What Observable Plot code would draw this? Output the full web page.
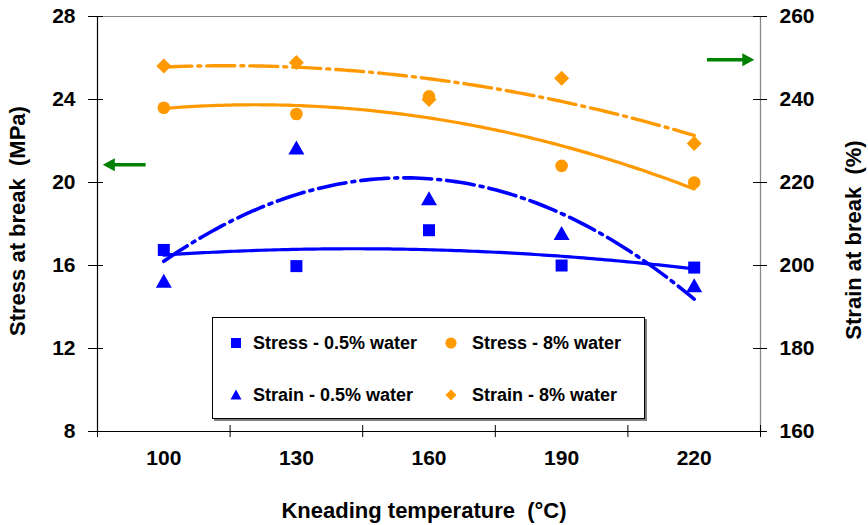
<!DOCTYPE html>
<html><head><meta charset="utf-8">
<script src="https://cdn.jsdelivr.net/npm/d3@7"></script>
<script src="https://cdn.jsdelivr.net/npm/@observablehq/plot@0.6"></script>
<style>
body{margin:0;background:#fff;}
#wrap{position:relative;width:868px;height:525px;font-family:"Liberation Sans",Arial,sans-serif;}
#wrap svg text{white-space:pre;}
#legend{position:absolute;left:212px;top:317px;width:431px;height:100px;border:1px solid #000;box-shadow:2px 2px 0 #7f7f7f;background:#fff;}
.lab{position:absolute;font-weight:bold;font-size:18px;line-height:20px;color:#000;white-space:nowrap;}
.mk{position:absolute;width:14px;height:14px;}
</style>
</head><body>
<div id="wrap"></div>
<script>
// ---- data ----
const temps = [100, 130, 160, 190, 220];
const stress05 = [16.75, 15.97, 17.7, 16.0, 15.9];   // MPa, left axis
const stress8  = [23.6, 23.3, 24.15, 20.8, 20.0];    // MPa, left axis
const strain05 = [196.2, 228.3, 216.1, 207.7, 195.1]; // %, right axis
const strain8  = [248.1, 248.9, 240.0, 245.1, 229.4]; // %, right axis

const xDomain = [85, 235];
const xTickLabels = [100, 130, 160, 190, 220];
const xBoundaries = [85, 115, 145, 175, 205, 235];
const stressDomain = [8, 28];
const stressTicks = [8, 12, 16, 20, 24, 28];
const strainDomain = [160, 260];
const strainTicks = [160, 180, 200, 220, 240, 260];

const seriesNames = ["Stress - 0.5% water", "Stress - 8% water", "Strain - 0.5% water", "Strain - 8% water"];
const blue = "#0000ff", orange = "#ff9900", green = "#008000";

// annotation arrows (pointing to the axis each group belongs to)
const leftArrow = [{tail: 96.0, tip: 86.2, stress: 20.85}];
const rightArrow = [{tail: 223.0, tip: 233.6, strain: 249.6}];

// ---- helpers ----
const k = (stressDomain[1] - stressDomain[0]) / (strainDomain[1] - strainDomain[0]);
const toLeft = v => stressDomain[0] + (v - strainDomain[0]) * k;
const fromLeft = v => strainDomain[0] + (v - stressDomain[0]) / k;

// quadratic least-squares trend (as the spreadsheet's polynomial trendline)
function polyfit2(xs, ys) {
  const n = xs.length; let s = [0,0,0,0,0], t = [0,0,0];
  for (let i = 0; i < n; i++) {
    const x = xs[i], y = ys[i];
    for (let p = 0; p < 5; p++) s[p] += Math.pow(x, p);
    for (let p = 0; p < 3; p++) t[p] += Math.pow(x, p) * y;
  }
  const A = [[s[0],s[1],s[2],t[0]],[s[1],s[2],s[3],t[1]],[s[2],s[3],s[4],t[2]]];
  for (let c = 0; c < 3; c++) {
    for (let r = c + 1; r < 3; r++) {
      const f = A[r][c] / A[c][c];
      for (let j = c; j < 4; j++) A[r][j] -= f * A[c][j];
    }
  }
  const b = [0,0,0];
  for (let r = 2; r >= 0; r--) {
    let v = A[r][3];
    for (let j = r + 1; j < 3; j++) v -= A[r][j] * b[j];
    b[r] = v / A[r][r];
  }
  return x => b[0] + b[1] * x + b[2] * x * x;
}
const xs = d3.range(temps[0], temps[temps.length - 1] + 0.5, 1);
function trend(vals, conv) {
  const f = polyfit2(temps, vals);
  return xs.map(x => ({x, y: conv(f(x))}));
}
const id = v => v;
const pts = (vals, conv) => temps.map((t, i) => ({x: t, y: conv(vals[i])}));

// custom marker shapes
const sq = {draw(c){ c.rect(-6, -6, 12, 12); }};
const tri = {draw(c){ c.moveTo(0, -7.5); c.lineTo(8, 6.5); c.lineTo(-8, 6.5); c.closePath(); }};
const dia = {draw(c){ c.moveTo(0, -7.5); c.lineTo(7.5, 0); c.lineTo(0, 7.5); c.lineTo(-7.5, 0); c.closePath(); }};
const headL = {draw(c){ c.moveTo(0, 0); c.lineTo(12, -6.5); c.lineTo(12, 6.5); c.closePath(); }};
const headR = {draw(c){ c.moveTo(0, 0); c.lineTo(-12, -6.5); c.lineTo(-12, 6.5); c.closePath(); }};

const dash = "28,6,3,6";

const chart = Plot.plot({
  width: 868, height: 525,
  marginLeft: 97, marginRight: 108, marginTop: 16, marginBottom: 94,
  style: {fontFamily: "'Liberation Sans', Arial, sans-serif", fontSize: "21px", fontWeight: "bold", color: "#000", background: "#fff", overflow: "visible"},
  x: {domain: xDomain, label: null},
  y: {domain: stressDomain, label: null},
  marks: [
    // plot-area border (top/right gray) and axes
    Plot.ruleY([stressDomain[1]], {stroke: "#888", strokeWidth: 1}),
    Plot.ruleX([xDomain[1]], {stroke: "#888", strokeWidth: 1.3}),
    Plot.ruleX([xDomain[0]], {stroke: "#000", strokeWidth: 1.2}),
    Plot.ruleY([stressDomain[0]], {stroke: "#000", strokeWidth: 1.2}),
    // crossing tick marks
    Plot.ruleY(stressTicks, {x1: xDomain[0], x2: xDomain[0], insetLeft: -9, insetRight: -6, stroke: "#000"}),
    Plot.ruleY(strainTicks.map(toLeft), {x1: xDomain[1], x2: xDomain[1], insetLeft: -7, insetRight: -7, stroke: "#000"}),
    Plot.ruleX(xBoundaries, {y1: stressDomain[0], y2: stressDomain[0], insetTop: -6, insetBottom: -6, stroke: "#000"}),
    // tick labels
    Plot.axisX(xTickLabels, {tickSize: 0, tickPadding: 19, fontSize: 21, fontWeight: "bold", label: null}),
    Plot.axisY(stressTicks, {anchor: "left", tickSize: 0, tickPadding: 22, fontSize: 21, fontWeight: "bold", label: null}),
    Plot.axisY(strainTicks.map(toLeft), {anchor: "right", tickSize: 0, tickPadding: 19, fontSize: 21, fontWeight: "bold", label: null,
      tickFormat: d => String(Math.round(fromLeft(d)))}),
    // axis titles
    Plot.text(["Stress at break  (MPa)"], {text: d => d, frameAnchor: "left", textAnchor: "middle", lineAnchor: "middle", rotate: -90, dx: -80, dy: -3, fontSize: 22, fontWeight: "bold"}),
    Plot.text(["Strain at break  (%)"], {text: d => d, frameAnchor: "right", textAnchor: "middle", lineAnchor: "middle", rotate: -90, dx: 93, dy: 16, fontSize: 22, fontWeight: "bold"}),
    Plot.text(["Kneading temperature  (°C)"], {text: d => d, frameAnchor: "bottom", textAnchor: "middle", lineAnchor: "middle", dx: -5, dy: 79, fontSize: 22, fontWeight: "bold"}),
    // markers
    Plot.dot(pts(stress05, id), {x: "x", y: "y", symbol: sq, fill: blue, stroke: "none"}),
    Plot.dot(pts(strain05, toLeft), {x: "x", y: "y", symbol: tri, fill: blue, stroke: "none"}),
    Plot.dot(pts(strain8, toLeft), {x: "x", y: "y", symbol: dia, fill: orange, stroke: "none"}),
    Plot.dot(pts(stress8, id), {x: "x", y: "y", symbol: "circle", r: 6.3, fill: orange, stroke: "none"}),
    // polynomial trendlines
    Plot.line(trend(stress05, id), {x: "x", y: "y", stroke: blue, strokeWidth: 3.2}),
    Plot.line(trend(stress8, id), {x: "x", y: "y", stroke: orange, strokeWidth: 3.2}),
    Plot.line(trend(strain05, toLeft), {x: "x", y: "y", stroke: blue, strokeWidth: 3.6, strokeDasharray: dash}),
    Plot.line(trend(strain8, toLeft), {x: "x", y: "y", stroke: orange, strokeWidth: 3.4, strokeDasharray: dash}),
    // green arrows
    Plot.ruleY(leftArrow, {y: "stress", x1: "tip", x2: "tail", insetLeft: 10, stroke: green, strokeWidth: 3.5}),
    Plot.dot(leftArrow, {x: "tip", y: "stress", symbol: headL, fill: green, stroke: "none"}),
    Plot.ruleY(rightArrow, {y: d => toLeft(d.strain), x1: "tail", x2: "tip", insetRight: 10, stroke: green, strokeWidth: 3.5}),
    Plot.dot(rightArrow, {x: "tip", y: d => toLeft(d.strain), symbol: headR, fill: green, stroke: "none"})
  ]
});

const wrap = document.getElementById("wrap");
wrap.appendChild(chart);

// legend (inside the plot area, as in the reference)
const legend = document.createElement("div");
legend.id = "legend";
const legendShapes = [
  `<rect x="2" y="2" width="10" height="10" fill="${blue}"/>`,
  `<circle cx="7" cy="7" r="5.6" fill="${orange}"/>`,
  `<path d="M7,1.5L12.5,11.5L1.5,11.5Z" fill="${blue}"/>`,
  `<path d="M7,1.5L12.5,7L7,12.5L1.5,7Z" fill="${orange}"/>`
];
const cols = [[16, 40], [231, 259]];
const rows = [15, 67];
seriesNames.forEach((name, i) => {
  const col = cols[i % 2], row = rows[Math.floor(i / 2)];
  const m = document.createElement("div");
  m.className = "mk"; m.style.left = col[0] + "px"; m.style.top = (row + 3) + "px";
  m.innerHTML = `<svg width="14" height="14">${legendShapes[i]}</svg>`;
  const t = document.createElement("div");
  t.className = "lab"; t.style.left = col[1] + "px"; t.style.top = row + "px";
  t.textContent = name;
  legend.appendChild(m); legend.appendChild(t);
});
wrap.appendChild(legend);
</script>
</body></html>
